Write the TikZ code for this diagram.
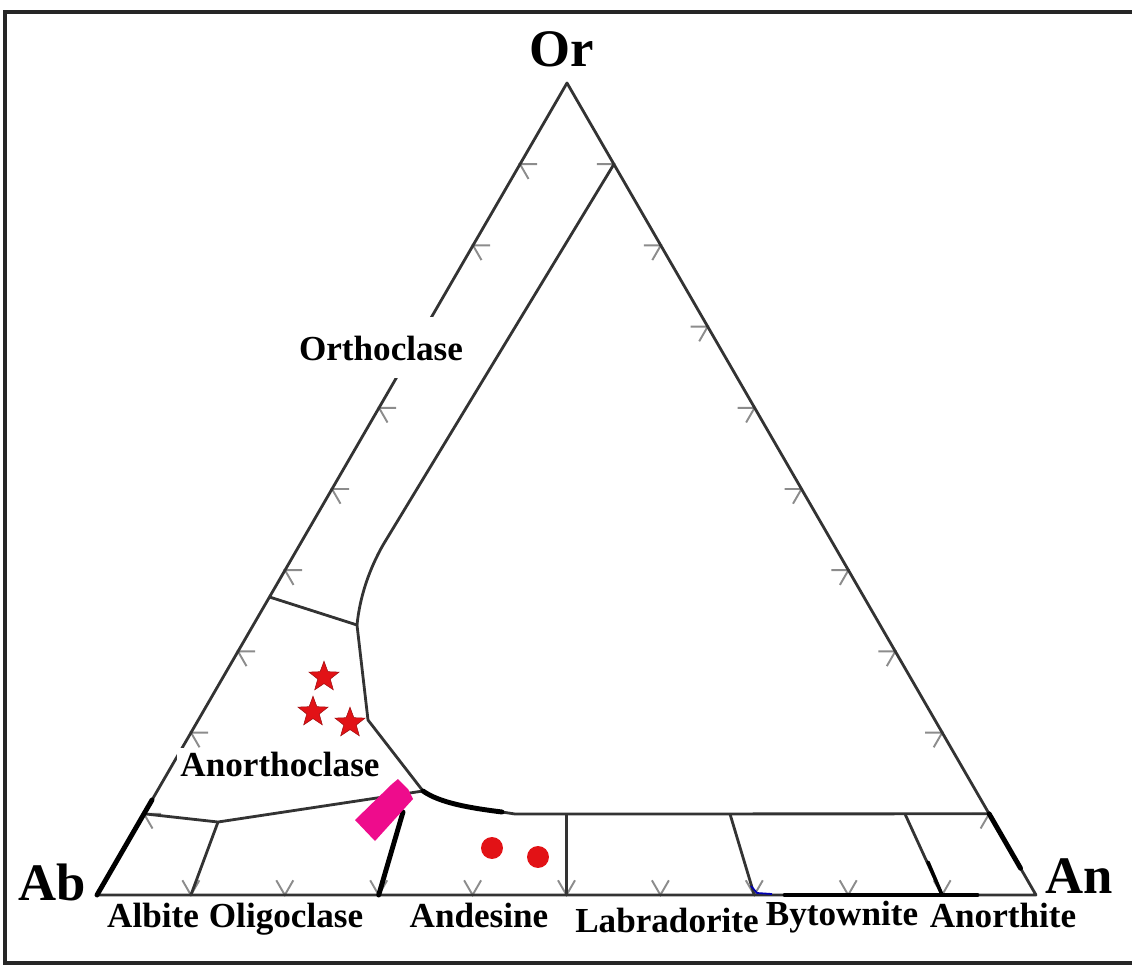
\documentclass[tikz,border=0pt]{standalone}
\usepackage{fontspec}
\setmainfont{Liberation Serif}
\usetikzlibrary{positioning, calc, shapes.geometric}
\definecolor{markred}{RGB}{226,18,22}
\definecolor{markpink}{RGB}{238,12,140}
\tikzset{
        sideline/.style={draw=black!80, line width=1.6pt, line join=round}, % triangle sides and field borders
        heavyline/.style={draw=black, line width=2.8pt, line cap=round}, % black strokes added by hand
        tickmark/.style={draw=black!45, line width=1.1pt}, % gray scale marks on the sides
        apexlabel/.style={font=\bfseries\fontsize{30}{30}\selectfont, inner sep=0pt}, % Or, Ab, An
        fieldlabel/.style={font=\bfseries\fontsize{20}{20}\selectfont, inner sep=2pt}, % feldspar names
        starmark/.style={star, star points=5, star point ratio=2.4, fill=markred, draw=markred!70!black, line width=0.3pt, minimum size=18pt, inner sep=0pt},
        dotmark/.style={circle, fill=markred, minimum size=12.5pt, inner sep=0pt},
    }
\begin{document}
\begin{tikzpicture}[x=0.02cm, y=-0.02cm]
    \useasboundingbox (0,0) rectangle (1132,966);
    \draw[line width=2.2pt, black!85] (1132,12) -- (5,12) -- (5,963) -- (1132,963);

    \coordinate (Ab) at (97,895);
    \coordinate (An) at (1036,895);
    \coordinate (Or) at (567,83);

    % scale marks every 10 %
    \foreach \i in {1,...,9} {
        \draw[tickmark] ($(Or)!\i/10!(Ab)$) +(17,0) -- +(0,0) -- +(8.5,14.7);
        \draw[tickmark] ($(Or)!\i/10!(An)$) +(-17,0) -- +(0,0) -- +(-8.5,14.7);
        \draw[tickmark] ($(Ab)!\i/10!(An)$) +(-8.5,-14.7) -- +(0,0) -- +(8.5,-14.7);
    }

    \draw[sideline] (Ab) -- (An) -- (Or) -- cycle;

    % field borders
    \coordinate (orsplit) at ($(Or)!0.1!(An)$);
    \coordinate (anoleft) at ($(Or)!0.633!(Ab)$);
    \coordinate (triple) at (357,625);
    \coordinate (knee) at (423,791);
    \coordinate (albleft) at ($(Or)!0.9!(Ab)$);
    \coordinate (anright) at ($(Or)!0.9!(An)$);
    \draw[sideline] (orsplit) -- (383,545) .. controls (370,568) and (360,595) .. (triple);
    \draw[sideline] (anoleft) -- (triple) -- (368,720) -- (knee);
    \draw[sideline] (albleft) -- (218,822) -- (knee);
    \draw[sideline] (218,822) -- ($(Ab)!0.1!(An)$);
    \draw[sideline] (502,812) -- (515,814) -- (anright);
    \draw[sideline] (566.5,814) -- ($(Ab)!0.5!(An)$);
    \draw[sideline] (730,814) -- ($(Ab)!0.7!(An)$);
    \draw[sideline] (905,814) -- ($(Ab)!0.9!(An)$);

    % black strokes
    \draw[heavyline] (Ab) -- ($(Or)!0.883!(Ab)$);
    \draw[heavyline] (403,812) -- ($(Ab)!0.3!(An)$);
    \draw[heavyline] (knee) .. controls (440,803) and (470,808) .. (502,812);
    \draw[heavyline] (785,895) -- (977,895);
    \draw[heavyline, line width=2pt] (928,862) -- ($(Ab)!0.9!(An)$);
    \draw[heavyline] (anright) -- ($(Or)!0.967!(An)$);
    \draw[blue!70!black, line width=1pt] (751,886) -- (757,893) -- (772,894);

    \fill[markpink] (355,820) -- (375,841) -- (413,799) -- (408,789) -- (398,779) -- (392,784) -- cycle;

    \node[starmark] (star1) at (324,677) {};
    \node[starmark] (star2) at (313,712) {};
    \node[starmark] (star3) at (350,723) {};
    \node[dotmark] (dot1) at (492,848) {};
    \node[dotmark] (dot2) at (538,857) {};

    \node[apexlabel, anchor=base] (orname) at (562,67) {Or};
    \node[apexlabel, anchor=base east] (abname) at (86,900) {Ab};
    \node[apexlabel, anchor=base west] (anname) at (1045,893) {An};

    \node[fieldlabel, anchor=base, fill=white, minimum height=1.22cm] (orthoclase) at (381,360) {Orthoclase};
    \node[fieldlabel, anchor=base, fill=white] (anorthoclase) at (280,776) {Anorthoclase};
    \node[fieldlabel, anchor=base] (albite) at (153,927) {Albite};
    \node[fieldlabel, anchor=base] (oligoclase) at (286,927) {Oligoclase};
    \node[fieldlabel, anchor=base] (andesine) at (479,927) {Andesine};
    \node[fieldlabel, anchor=base] (labradorite) at (667,932) {Labradorite};
    \node[fieldlabel, anchor=base] (bytownite) at (842,925) {Bytownite};
    \node[fieldlabel, anchor=base] (anorthite) at (1003,927) {Anorthite};
\end{tikzpicture}
\end{document}
